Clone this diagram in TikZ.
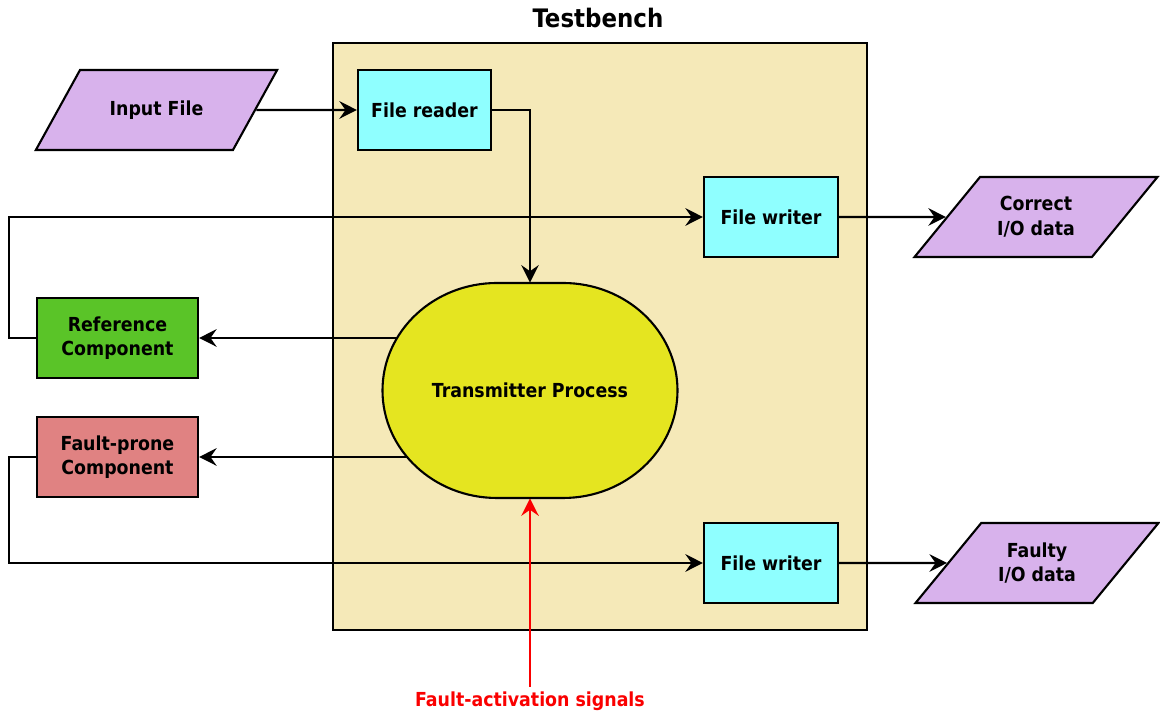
\documentclass[tikz,border=0pt]{standalone}
\usepackage{fontspec}
\setmainfont{DejaVu Sans Condensed}
\usetikzlibrary{arrows.meta, positioning, shapes.geometric}
\definecolor{tb_sand}{RGB}{245, 233, 184}
\definecolor{my_cyan}{RGB}{143, 255, 255}
\definecolor{my_purple}{RGB}{216, 178, 236}
\definecolor{my_green}{RGB}{90, 196, 40}
\definecolor{my_pink}{RGB}{224, 130, 130}
\definecolor{my_yellow}{RGB}{229, 229, 32}
\definecolor{my_red}{RGB}{250, 0, 0}
\tikzset {
  bench/.style = {draw, line width=1.2pt, fill=tb_sand, rectangle, minimum width=10.68cm, minimum height=11.74cm},
  block/.style = {draw, line width=1.2pt, rectangle, minimum width=2.66cm, minimum height=1.6cm, align=center,
                  font=\fontsize{11}{14}\selectfont\bfseries},
  iofile/.style = {draw, line width=1.2pt, trapezium, trapezium left angle=45, trapezium right angle=135,
                   trapezium stretches=true, fill=my_purple, minimum width=4.86cm, minimum height=1.6cm,
                   align=center, font=\fontsize{11}{14}\selectfont\bfseries},
  % the oval itself is drawn as a path, the node only holds the text
  process/.style = {rectangle, minimum width=5.9cm, minimum height=4.3cm, font=\fontsize{11}{14}\selectfont\bfseries},
  procshape/.style = {draw, line width=1.2pt, fill=my_yellow},
  line/.style = {->, line width=1.2pt, color=black, >={Stealth[length=10pt, width=10pt, inset=3.5pt]}},
  signal/.style = {line, color=my_red},
}
\pgfdeclarelayer{background}
\pgfdeclarelayer{wires}
\pgfsetlayers{background,wires,main}

\begin{document}
\begin{tikzpicture}
    \useasboundingbox (0,0) rectangle (23.2,14.24);

    \begin{pgfonlayer}{background}
      \node[bench] (bench) at (12.0,7.51) {};
    \end{pgfonlayer}
    \node[font=\fontsize{14.5}{17}\selectfont\bfseries] (title) at (11.96,13.88) {Testbench};

    \node[iofile] (infile) at (3.13,12.04) {Input File};
    \node[block, fill=my_cyan] (reader) at (8.49,12.04) {File reader};
    \node[block, fill=my_cyan, minimum width=2.68cm] (writer1) at (15.42,9.90) {File writer};
    \node[iofile] (correct) at (20.72,9.90) {Correct\\I/O data};
    \node[block, fill=my_green, minimum width=3.22cm] (ref) at (2.35,7.48) {Reference\\Component};
    \node[block, fill=my_pink, minimum width=3.22cm] (fault) at (2.35,5.10) {Fault-prone\\Component};

    \path[procshape] (10.6,6.43) ++(-0.66,2.15) -- ++(1.32,0)
        arc[start angle=90, end angle=-90, x radius=2.29cm, y radius=2.15cm] -- ++(-1.32,0)
        arc[start angle=270, end angle=90, x radius=2.29cm, y radius=2.15cm] -- cycle;
    \node[process] (tx) at (10.6,6.43) {Transmitter Process};

    \node[block, fill=my_cyan, minimum width=2.68cm] (writer2) at (15.42,2.98) {File writer};
    \node[iofile] (faulty) at (20.74,2.98) {Faulty\\I/O data};

    \coordinate (rail) at (0.18,7.0);
    \coordinate (sig) at (10.6,0.50);
    \node[text=my_red, font=\fontsize{11}{14}\selectfont\bfseries, below=-1pt of sig] (siglabel) {Fault-activation signals};

    \begin{pgfonlayer}{wires}
      \draw[line] (infile.east) -- (reader.west);
      \draw[line] (reader.east) -| (tx.north);
      \draw[line] (ref.east -| tx.center) -- (ref.east);
      \draw[line] (fault.east -| tx.center) -- (fault.east);
      \draw[line] (ref.west) -- (ref.west -| rail) |- (writer1.west);
      \draw[line] (fault.west) -- (fault.west -| rail) |- (writer2.west);
      \draw[line] (writer1.east) -- (correct.west);
      \draw[line] (writer2.east) -- (faulty.west);
      \draw[signal] (sig) -- (tx.south);
    \end{pgfonlayer}

\end{tikzpicture}
\end{document}
